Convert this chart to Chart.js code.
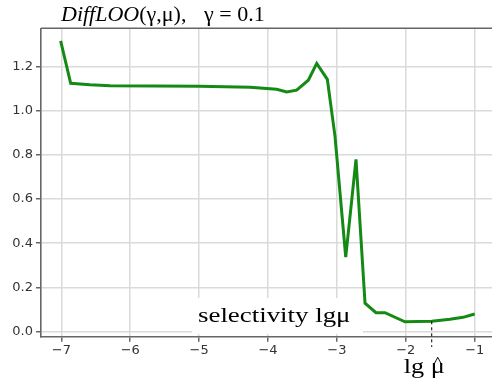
<!DOCTYPE html>
<html>
<head>
<meta charset="utf-8">
<script src="https://cdn.jsdelivr.net/npm/chart.js@4"></script>
<style>
  html, body { margin: 0; padding: 0; background: #fff; overflow: hidden; }
</style>
</head>
<body>
<canvas id="chart" width="492" height="385"></canvas>
<script>
// lg(mu) grid and DiffLOO values
const lgMu = [-7.01, -6.864, -6.583, -6.293, -5.0, -4.261, -3.874, -3.729, -3.584, -3.415, -3.293,
  -3.139, -3.028, -2.872, -2.723, -2.592, -2.433, -2.302, -2.012, -1.624, -1.359, -1.17, -1.0];
const diffLoo = [1.315, 1.123, 1.116, 1.112, 1.11, 1.105, 1.096, 1.084, 1.092, 1.137, 1.213,
  1.141, 0.884, 0.337, 0.779, 0.129, 0.086, 0.086, 0.045, 0.047, 0.056, 0.065, 0.080];
const xTicks = [-7, -6, -5, -4, -3, -2, -1];
const yTicks = [0, 0.2, 0.4, 0.6, 0.8, 1.0, 1.2];
const muHatIndex = 19; // the minimum, marked with the dashed line

const gridColor = "#dadada";
const spineColor = "#666";

const decor = {
  id: "decor",
  beforeDatasetsDraw(chart) {
    // white box behind the "selectivity" label
    const ctx = chart.ctx;
    ctx.save();
    ctx.fillStyle = "#fff";
    ctx.fillRect(192, 298, 171, 36);
    ctx.restore();
  },
  afterDraw(chart) {
    const { ctx, chartArea: a, scales } = chart;
    ctx.save();

    // top spine
    ctx.strokeStyle = spineColor;
    ctx.lineWidth = 1.6;
    ctx.beginPath();
    ctx.moveTo(a.left, a.top);
    ctx.lineTo(a.right, a.top);
    ctx.stroke();

    // title
    ctx.fillStyle = "#000";
    ctx.textBaseline = "alphabetic";
    ctx.font = 'italic 22px "Liberation Serif"';
    ctx.fillText("DiffLOO", 61, 21);
    const w = ctx.measureText("DiffLOO").width;
    ctx.font = '22px "Liberation Serif"';
    ctx.fillText("(\u03b3,\u03bc),", 61 + w, 21);
    ctx.fillText("\u03b3 = 0.1", 204, 21);

    // axis caption
    ctx.save();
    ctx.translate(198, 322);
    ctx.scale(1.28, 1);
    ctx.font = '21px "Liberation Serif"';
    ctx.fillText("selectivity lg\u03bc", 0, 0);
    ctx.restore();

    // dashed marker at the minimum
    const mx = scales.x.getPixelForValue(lgMu[muHatIndex]);
    const my = scales.y.getPixelForValue(diffLoo[muHatIndex]);
    ctx.strokeStyle = "#000";
    ctx.lineWidth = 1;
    ctx.setLineDash([3, 3]);
    ctx.beginPath();
    ctx.moveTo(mx, my);
    ctx.lineTo(mx, 347);
    ctx.stroke();
    ctx.setLineDash([]);

    ctx.save();
    ctx.translate(mx - 28, 373);
    ctx.scale(1.25, 1);
    ctx.font = '21px "Liberation Serif"';
    ctx.fillText("lg \u03bc", 0, 0);
    const lw = ctx.measureText("lg ").width;
    const muw = ctx.measureText("\u03bc").width;
    ctx.textAlign = "center";
    ctx.font = '17px "Liberation Serif"';
    ctx.fillText("^", lw + muw / 2, -5);
    ctx.restore();

    ctx.restore();
  }
};

new Chart(document.getElementById("chart"), {
  type: "line",
  data: {
    datasets: [{
      data: lgMu.map((x, i) => ({ x, y: diffLoo[i] })),
      borderColor: "#148a14",
      borderWidth: 3,
      pointRadius: 0,
      tension: 0,
      fill: false
    }]
  },
  options: {
    responsive: false,
    devicePixelRatio: 1,
    animation: false,
    layout: { padding: { top: 28.3, left: 0, right: 0, bottom: 0 } },
    plugins: {
      legend: { display: false },
      tooltip: { enabled: false }
    },
    scales: {
      x: {
        type: "linear",
        min: -7.295,
        max: -0.749,
        afterBuildTicks: s => { s.ticks = xTicks.map(v => ({ value: v })); },
        afterFit: s => { s.height = 48.3; },
        ticks: {
          color: "#333",
          font: { family: "DejaVu Sans", size: 13 },
          padding: 1,
          maxRotation: 0,
          autoSkip: false,
          callback: v => String(v).replace("-", "\u2212")
        },
        grid: { color: gridColor, lineWidth: 1.5, tickColor: spineColor, tickLength: 5 },
        border: { color: spineColor, width: 1.6 }
      },
      y: {
        min: -0.0226,
        max: 1.3716,
        afterBuildTicks: s => { s.ticks = yTicks.map(v => ({ value: v })); },
        afterFit: s => { s.width = 41; },
        ticks: {
          color: "#333",
          font: { family: "DejaVu Sans", size: 13 },
          padding: 3,
          callback: v => v.toFixed(1)
        },
        grid: { color: gridColor, lineWidth: 1.5, tickColor: spineColor, tickLength: 5 },
        border: { color: spineColor, width: 1.6 }
      }
    }
  },
  plugins: [decor]
});
</script>
</body>
</html>
